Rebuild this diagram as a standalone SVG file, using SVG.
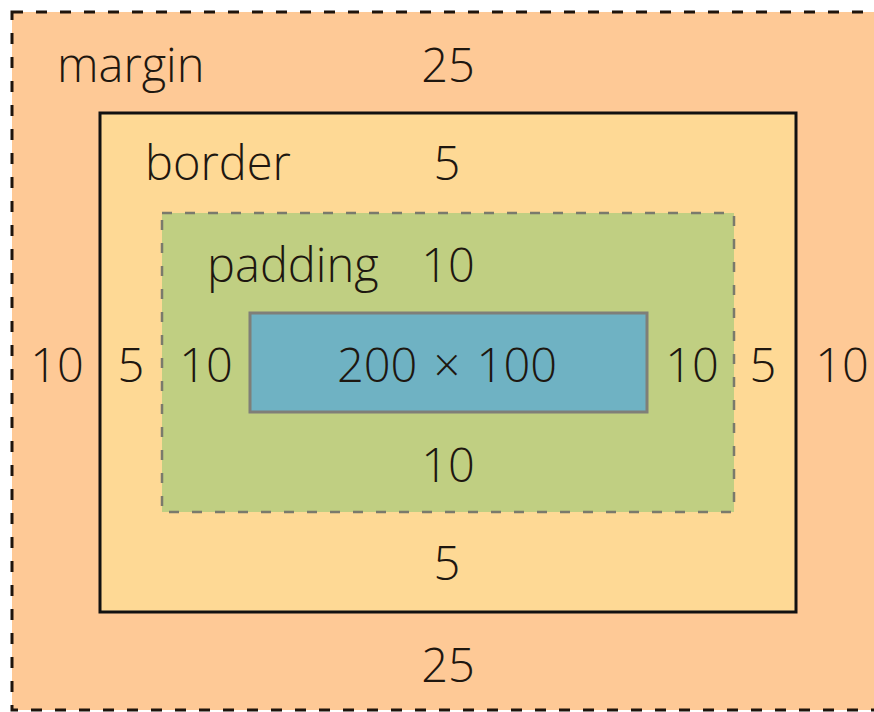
<svg xmlns="http://www.w3.org/2000/svg" width="874" height="712" viewBox="0 0 874 712">
  <style>
    text { font-family: "Open Sans", "Noto Sans", "DejaVu Sans", sans-serif; font-size: 47px; font-weight: 300; fill: #1e1710; }
    .c { text-anchor: middle; }
    .margin-box { fill: #fec996; stroke: #1e140c; stroke-width: 3; stroke-dasharray: 11 13; }
    .border-box { fill: #fed995; stroke: #111; stroke-width: 3; }
    .padding-box { fill: #c0cf82; stroke: #7a7a6c; stroke-width: 2.5; stroke-dasharray: 10 13; }
    .content-box { fill: #6fb2c3; stroke: #7f7f78; stroke-width: 3; }
  </style>
  <rect width="874" height="712" fill="#ffffff"/>
  <g id="margin">
    <rect class="margin-box" x="12" y="12" width="890" height="698"/>
    <text x="57" y="82">margin</text>
    <text class="c" x="448" y="82">25</text>
    <text class="c" x="57" y="382">10</text>
    <text class="c" x="842" y="382">10</text>
    <text class="c" x="448" y="682">25</text>
  </g>
  <g id="border">
    <rect class="border-box" x="100" y="113" width="696" height="499"/>
    <text x="145" y="180">border</text>
    <text class="c" x="447" y="180">5</text>
    <text class="c" x="131" y="382">5</text>
    <text class="c" x="763" y="382">5</text>
    <text class="c" x="447" y="580">5</text>
  </g>
  <g id="padding">
    <rect class="padding-box" x="162" y="213" width="572" height="299"/>
    <text x="207" y="282">padding</text>
    <text class="c" x="448" y="282">10</text>
    <text class="c" x="206" y="382">10</text>
    <text class="c" x="692" y="382">10</text>
    <text class="c" x="448" y="482">10</text>
  </g>
  <g id="content">
    <rect class="content-box" x="250" y="313" width="397" height="99"/>
    <text class="c" x="447" y="382" word-spacing="4">200 × 100</text>
  </g>
</svg>
